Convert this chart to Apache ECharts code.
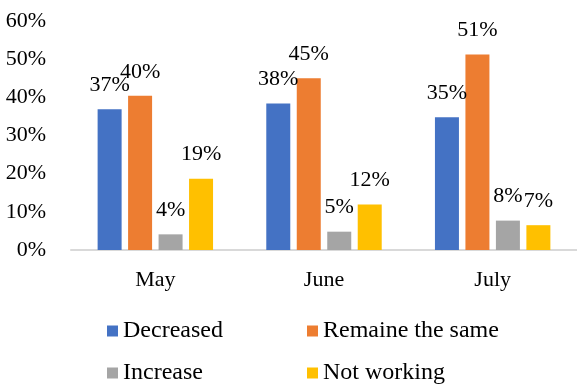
<!DOCTYPE html>
<html>
<head>
<meta charset="utf-8">
<script src="https://cdn.jsdelivr.net/npm/echarts@6/dist/echarts.min.js"></script>
<style>
  html, body { margin: 0; padding: 0; background: #fff; }
  #chart { width: 577px; height: 386px; }
</style>
</head>
<body>
<div id="chart"></div>
<script>
var months = ['May', 'June', 'July'];
var yTicks = ['0%', '10%', '20%', '30%', '40%', '50%', '60%'];

// values (labels show them rounded)
var decreased = [36.9, 38.4, 34.8];
var remained = [40.4, 45.0, 51.2];
var increased = [4.1, 4.8, 7.7];
var notWorking = [18.7, 11.9, 6.5];

var font = 'Liberation Serif, Times New Roman, serif';

function makeSeries(name, data, color) {
  return {
    name: name,
    type: 'bar',
    data: data,
    barWidth: 24,
    barGap: '27%',
    itemStyle: { color: color },
    label: {
      show: true,
      position: 'top',
      distance: 13,
      fontFamily: font,
      fontSize: 22,
      color: '#000',
      formatter: function(p) {
        return Math.round(p.value) + '%';
      }
    }
  };
}

// one legend per entry, laid out 2x2 like the original
function makeLegend(name, left, top) {
  return {
    data: [name],
    left: left,
    top: top,
    itemWidth: 11,
    itemHeight: 11,
    icon: 'rect',
    textStyle: { fontFamily: font, fontSize: 24, color: '#000' }
  };
}

var chart = echarts.init(document.getElementById('chart'));
chart.setOption({
  animation: false,
  backgroundColor: '#fff',
  textStyle: { fontFamily: font },
  grid: { left: 71, right: -3, top: 21, bottom: 136 },
  legend: [
    makeLegend('Decreased', 102, 314),
    makeLegend('Remaine the same', 302, 314),
    makeLegend('Increase', 102, 356),
    makeLegend('Not working', 302, 356)
  ],
  xAxis: {
    type: 'category',
    data: months,
    axisLine: { lineStyle: { color: '#d9d9d9', width: 2 } },
    axisTick: { show: false },
    axisLabel: { fontFamily: font, fontSize: 22, color: '#000', margin: 19 }
  },
  yAxis: {
    type: 'value',
    min: 0,
    max: 60,
    interval: 10,
    axisLine: { show: false },
    axisTick: { show: false },
    splitLine: { show: false },
    axisLabel: {
      fontFamily: font,
      fontSize: 22,
      color: '#000',
      margin: 25,
      formatter: function(v) {
        return yTicks[v / 10];
      }
    }
  },
  series: [
    makeSeries('Decreased', decreased, '#4472c4'),
    makeSeries('Remaine the same', remained, '#ed7d31'),
    makeSeries('Increase', increased, '#a5a5a5'),
    makeSeries('Not working', notWorking, '#ffc000')
  ]
});
</script>
</body>
</html>
